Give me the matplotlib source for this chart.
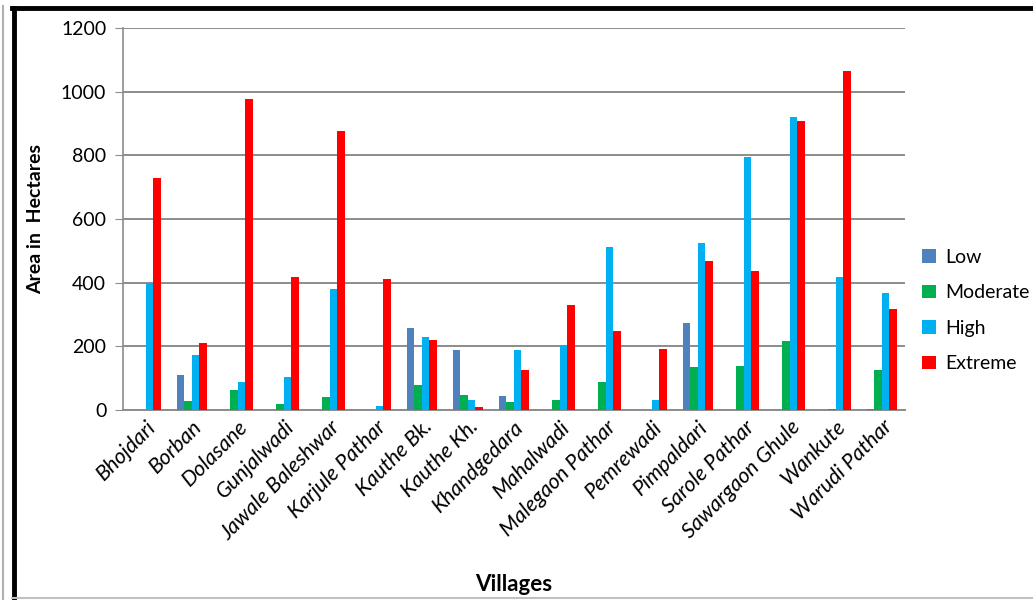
import matplotlib.pyplot as plt
import numpy as np
from matplotlib.lines import Line2D

plt.rcParams['font.family'] = ['Lato', 'DejaVu Sans']

villages = ["Bhojdari", "Borban", "Dolasane", "Gunjalwadi", "Jawale Baleshwar",
            "Karjule Pathar", "Kauthe Bk.", "Kauthe Kh.", "Khandgedara", "Mahalwadi",
            "Malegaon Pathar", "Pemrewadi", "Pimpaldari", "Sarole Pathar",
            "Sawargaon Ghule", "Wankute", "Warudi Pathar"]

# area (ha) per risk class
low = [0, 110, 0, 0, 0, 0, 257, 188, 42, 0, 0, 0, 272, 0, 0, 0, 3]
moderate = [0, 27, 63, 18, 39, 0, 79, 47, 23, 31, 87, 0, 134, 138, 216, 3, 124]
high = [400, 173, 87, 103, 379, 12, 228, 31, 188, 204, 513, 31, 524, 796, 920, 419, 367]
extreme = [728, 209, 977, 419, 876, 410, 220, 10, 124, 330, 248, 192, 467, 436, 908, 1066, 318]

series = [("Low", low, "#4f81bd"), ("Moderate", moderate, "#00b050"),
          ("High", high, "#00b0f0"), ("Extreme", extreme, "#ff0000")]

fig = plt.figure(figsize=(10.33, 6), dpi=100)
ax = fig.add_axes([0.119, 0.317, 0.757, 0.636])

x = np.arange(len(villages))
w = 0.163
for i, (name, vals, col) in enumerate(series):
    ax.bar(x + (i - 1.5) * w, vals, w, color=col, label=name, zorder=3)

ax.set_xlim(-0.5, len(villages) - 0.5)
ax.set_ylim(0, 1200)
ax.set_yticks(range(0, 1201, 200))
ax.yaxis.grid(True, color="#8c8c8c", linewidth=1.4, zorder=0)
for s in ["top", "right"]:
    ax.spines[s].set_visible(False)
ax.spines["left"].set_color("#8c8c8c")
ax.spines["bottom"].set_color("#8c8c8c")
ax.spines["left"].set_linewidth(1.2)
ax.spines["bottom"].set_linewidth(1.4)
ax.tick_params(axis="y", length=6, color="#8c8c8c", labelsize=14, pad=6)
ax.tick_params(axis="x", length=0, pad=5)
ax.set_xticks(x)
ax.set_xticklabels(villages, rotation=45, ha="right", rotation_mode="anchor",
                   fontsize=15.5, style="italic")

ax.set_ylabel("Area in  Hectares", fontsize=14, fontweight="bold", labelpad=12)
ax.set_xlabel("Villages", fontsize=16, fontweight="bold", labelpad=0)
ax.xaxis.set_label_coords(0.5, -0.43)

leg = ax.legend(loc="center left", bbox_to_anchor=(1.0, 0.26), frameon=False,
                fontsize=14, handlelength=0.7, handleheight=0.7, labelspacing=0.95,
                handletextpad=0.5)

# frame lines around the chart
fig.add_artist(Line2D([0.003, 0.003], [0.0, 0.99], color="#b0b0b0", lw=1.5))
fig.add_artist(Line2D([0.0135, 0.0135], [0.0, 0.986], color="black", lw=3.5))
fig.add_artist(Line2D([0.012, 1.0], [0.986, 0.986], color="black", lw=3.5))
fig.add_artist(Line2D([0.012, 1.0], [0.004, 0.004], color="#c0c0c0", lw=1.5))

fig.savefig("out.png", dpi=100)
